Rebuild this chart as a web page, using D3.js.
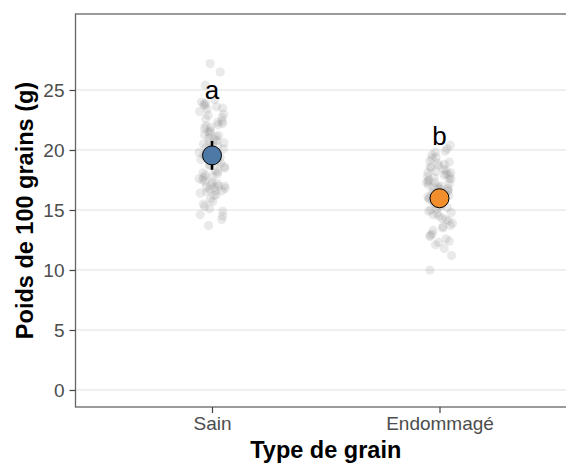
<!DOCTYPE html>
<html>
<head>
<meta charset="utf-8">
<script src="https://cdn.jsdelivr.net/npm/d3@7"></script>
<style>
  html, body { margin: 0; padding: 0; background: #fff; }
  svg { display: block; font-family: "Liberation Sans", Arial, sans-serif; }
</style>
</head>
<body>
<svg id="chart" width="566" height="463"></svg>
<script>
// Grain categories and their colours
const categories = ["Sain", "Endommagé"];
const meanColors = ["#4e79a7", "#f28e2b"];

// Individual weights of 100 grains (g)
const sainValues = [
  27.2, 26.5, 25.4, 24.2, 23.9, 23.7, 23.5, 23.6, 23.2, 23.0, 22.7, 22.4,
  22.2, 22.0, 21.8, 21.6, 21.4, 21.2, 21.0, 20.8, 20.6, 20.5, 20.3, 20.1,
  20.0, 19.8, 19.6, 19.5, 19.3, 19.1, 19.0, 18.8, 18.6, 18.5, 18.3, 18.1,
  18.0, 17.8, 17.6, 17.5, 17.3, 17.1, 17.0, 16.9, 16.7, 16.6, 16.4, 16.3,
  16.5, 17.2, 17.9, 18.9, 19.4, 20.2, 21.1, 22.9, 15.9, 15.5, 15.1, 14.9,
  14.5, 14.2, 13.7, 23.4, 21.5, 16.8, 23.8, 22.6, 22.1, 21.9, 21.3, 20.9,
  20.4, 19.9, 19.7, 18.7, 18.2, 17.7, 17.4, 16.9, 16.6, 16.2, 15.7, 14.6,
  24.0, 22.3, 20.7, 19.2, 17.0, 15.3
];
const endoValues = [
  20.4, 20.1, 19.8, 19.6, 19.3, 19.1, 18.9, 18.8, 18.6, 18.5, 18.3, 18.2,
  18.0, 17.9, 17.8, 17.6, 17.5, 17.4, 17.3, 17.1, 17.0, 16.9, 16.8, 16.6,
  16.5, 16.4, 16.2, 16.1, 16.0, 15.9, 15.8, 15.6, 15.5, 15.4, 15.2, 15.0,
  14.9, 14.7, 14.5, 14.3, 14.1, 13.9, 13.7, 13.5, 13.3, 13.0, 12.8, 12.6,
  12.4, 12.1, 11.8, 11.2, 10.0, 17.7, 18.1, 16.7, 15.3, 14.6, 19.0, 17.2,
  19.4, 18.7, 18.4, 17.9, 17.6, 17.3, 17.0, 16.8, 16.3, 15.7, 15.1, 14.8,
  14.2, 13.6, 12.9, 12.3, 19.9, 18.1, 16.6, 15.5
];

// Group means with their confidence half-widths
const means = [19.55, 15.98];
const ciHalf = [1.2, 0.6];

// Significance letters and the weight at which each is written
const letters = ["a", "b"];
const letterAt = [24.25, 20.4];

const yTicks = [0, 5, 10, 15, 20, 25];

const svg = d3.select("#chart");
const panel = { left: 75.5, right: 576, top: 14, bottom: 407 };

const x = d3.scalePoint()
  .domain(categories)
  .range([panel.left, panel.right])
  .padding(0.6);

const y = d3.scaleLinear()
  .domain([-1.417, 31.333])
  .range([panel.bottom, panel.top]);

// Panel background and horizontal grid
svg.append("rect")
  .attr("x", panel.left).attr("y", panel.top)
  .attr("width", panel.right - panel.left)
  .attr("height", panel.bottom - panel.top)
  .attr("fill", "#fff");

svg.append("g")
  .selectAll("line")
  .data(yTicks)
  .join("line")
  .attr("x1", panel.left).attr("x2", panel.right)
  .attr("y1", d => y(d)).attr("y2", d => y(d))
  .attr("stroke", "#ebebeb")
  .attr("stroke-width", 1.3);

// Jittered raw observations
const jitter = d3.randomUniform.source(d3.randomLcg(0.4217))(-0.058, 0.058);
const step = x.step();
const groups = [sainValues, endoValues];
const points = [];
groups.forEach((vals, gi) => {
  vals.forEach(v => points.push({ cat: categories[gi], v, dx: jitter() * step }));
});

svg.append("g")
  .selectAll("circle")
  .data(points)
  .join("circle")
  .attr("cx", d => x(d.cat) + d.dx)
  .attr("cy", d => y(d.v))
  .attr("r", 4.6)
  .attr("fill", "#808080")
  .attr("fill-opacity", 0.17);

// Confidence intervals
svg.append("g")
  .selectAll("line")
  .data(categories)
  .join("line")
  .attr("x1", d => x(d)).attr("x2", d => x(d))
  .attr("y1", (d, i) => y(means[i] - ciHalf[i]))
  .attr("y2", (d, i) => y(means[i] + ciHalf[i]))
  .attr("stroke", "#000")
  .attr("stroke-width", 2.6);

// Group means
svg.append("g")
  .selectAll("circle")
  .data(categories)
  .join("circle")
  .attr("cx", d => x(d))
  .attr("cy", (d, i) => y(means[i]))
  .attr("r", 9.5)
  .attr("fill", (d, i) => meanColors[i])
  .attr("stroke", "#000")
  .attr("stroke-width", 1);

// Significance letters
svg.append("g")
  .selectAll("text")
  .data(categories)
  .join("text")
  .attr("x", d => x(d))
  .attr("y", (d, i) => y(letterAt[i]))
  .attr("text-anchor", "middle")
  .attr("font-size", 26)
  .attr("fill", "#000")
  .text((d, i) => letters[i]);

// Panel border
svg.append("rect")
  .attr("x", panel.left).attr("y", panel.top)
  .attr("width", panel.right - panel.left)
  .attr("height", panel.bottom - panel.top)
  .attr("fill", "none")
  .attr("stroke", "#666")
  .attr("stroke-width", 1.3);

// Axes
const yAxis = svg.append("g")
  .attr("transform", `translate(${panel.left},0)`)
  .call(d3.axisLeft(y).tickValues(yTicks).tickSize(6).tickPadding(5));
const xAxis = svg.append("g")
  .attr("transform", `translate(0,${panel.bottom})`)
  .call(d3.axisBottom(x).tickSize(6).tickPadding(4));

[yAxis, xAxis].forEach(g => {
  g.select(".domain").remove();
  g.selectAll(".tick line").attr("stroke", "#444").attr("stroke-width", 1.2);
  g.selectAll(".tick text")
    .attr("fill", "#4d4d4d")
    .attr("font-size", 19)
    .attr("font-family", "Liberation Sans, Arial, sans-serif");
});

// Axis titles
svg.append("text")
  .attr("x", (panel.left + panel.right) / 2)
  .attr("y", 458)
  .attr("text-anchor", "middle")
  .attr("font-size", 23.5)
  .attr("font-weight", "bold")
  .attr("fill", "#000")
  .text("Type de grain");

svg.append("text")
  .attr("transform", `translate(33,${(panel.top + panel.bottom) / 2}) rotate(-90)`)
  .attr("text-anchor", "middle")
  .attr("font-size", 23.5)
  .attr("font-weight", "bold")
  .attr("fill", "#000")
  .text("Poids de 100 grains (g)");
</script>
</body>
</html>
